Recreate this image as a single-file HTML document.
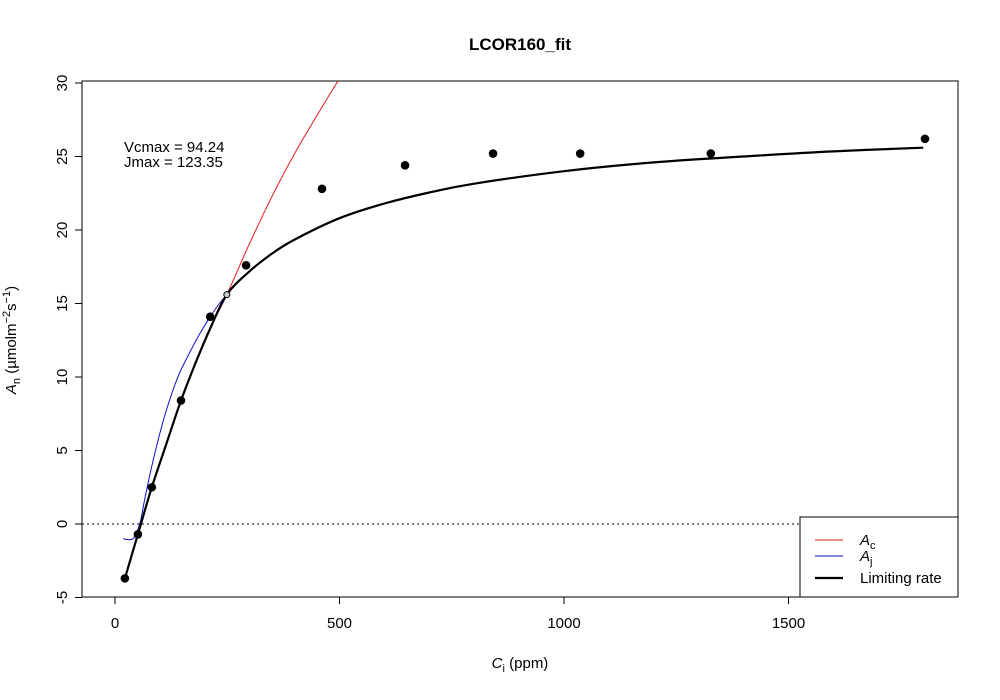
<!DOCTYPE html>
<html><head><meta charset="utf-8"><style>
body{margin:0;background:#fff;}
svg{display:block;font-family:"Liberation Sans",Arial,sans-serif;}
</style></head><body>
<svg id="chart" width="1000" height="700" xmlns="http://www.w3.org/2000/svg"></svg>
<script>
const xTicks=[0,500,1000,1500];
const yTicks=[-5,0,5,10,15,20,25,30];
const obsCi=[22,51,82,147,212,292,461,646,842,1036,1327,1804];
const obsA=[-3.7,-0.7,2.5,8.4,14.1,17.6,22.8,24.4,25.2,25.2,25.2,26.2];
const acCi=[22,51,82,115,147,180,212,249,300,350,400,450,500,520];
const acA=[-3.7,-0.7,2.5,5.5,8.4,11.0,13.3,15.6,19.1,22.3,25.2,27.8,30.3,31.2];
const ajCi=[18,40,55,65,78,95,116,140,167,190,212,230,249];
const ajA=[-1.0,-1.0,0.0,1.5,3.4,5.6,7.9,10.0,11.7,13.0,14.1,14.9,15.6];
const limCi=[22,51,82,115,147,180,212,249,300,350,400,500,600,700,800,1000,1200,1400,1600,1800];
const limA=[-3.7,-0.7,2.5,5.5,8.4,11.0,13.3,15.6,17.2,18.4,19.35,20.8,21.8,22.55,23.15,24.0,24.6,25.0,25.35,25.6];
const transition=[249,15.6];

const L=82,R=958,T=81,B=597;
const X=v=>115+v*0.449;
const Y=v=>524-v*14.7;
const svg=document.getElementById('chart');
const NS='http://www.w3.org/2000/svg';
function mk(tag,attrs,parent){const e=document.createElementNS(NS,tag);for(const k in attrs)e.setAttribute(k,attrs[k]);(parent||svg).appendChild(e);return e;}
function txt(s,attrs,parent){const e=mk('text',attrs,parent);e.textContent=s;return e;}
function path(xs,ys){
  const P=xs.map((v,i)=>[X(v),Y(ys[i])]);
  let d='M'+P[0][0].toFixed(1)+','+P[0][1].toFixed(1);
  for(let i=0;i<P.length-1;i++){
    const p0=P[i-1]||P[i],p1=P[i],p2=P[i+1],p3=P[i+2]||P[i+1];
    const c1=[p1[0]+(p2[0]-p0[0])/6,p1[1]+(p2[1]-p0[1])/6];
    const c2=[p2[0]-(p3[0]-p1[0])/6,p2[1]-(p3[1]-p1[1])/6];
    d+=`C${c1[0].toFixed(1)},${c1[1].toFixed(1)} ${c2[0].toFixed(1)},${c2[1].toFixed(1)} ${p2[0].toFixed(1)},${p2[1].toFixed(1)}`;
  }
  return d;
}

let t=txt('LCOR160_fit',{x:520,y:50,'text-anchor':'middle','font-size':17,'font-weight':'bold'});


const clip=mk('clipPath',{id:'pc'});mk('rect',{x:L,y:T,width:R-L,height:B-T},clip);

const xa=mk('g',{});
mk('line',{x1:X(0),x2:X(1500),y1:B,y2:B,stroke:'#000'},xa);
xTicks.forEach(v=>{mk('line',{x1:X(v),x2:X(v),y1:B,y2:B+7,stroke:'#000'},xa);
 const e=txt(String(v),{x:X(v),y:B+31,'text-anchor':'middle','font-size':15},xa);
 });
const xt=txt('',{x:520,y:668,'text-anchor':'middle','font-size':15},svg);
xt.innerHTML='<tspan font-style="italic">C</tspan><tspan font-size="11" dy="4">i</tspan><tspan dy="-4"> (ppm)</tspan>';


const ya=mk('g',{});
mk('line',{x1:L,x2:L,y1:Y(-5),y2:Y(30),stroke:'#000'},ya);
yTicks.forEach(v=>{mk('line',{x1:L,x2:L-7,y1:Y(v),y2:Y(v),stroke:'#000'},ya);
 const e=txt(String(v),{x:0,y:0,'text-anchor':'middle','font-size':15,transform:`translate(${L-15},${Y(v)}) rotate(-90)`},ya);
 });
const yt=txt('',{'text-anchor':'middle','font-size':15,transform:'translate(16,340) rotate(-90)'});
yt.innerHTML='<tspan font-style="italic">A</tspan><tspan font-size="11" dy="4">n</tspan><tspan dy="-4"> (µmolm</tspan><tspan font-size="11" dy="-6">−2</tspan><tspan dy="6">s</tspan><tspan font-size="11" dy="-6">−1</tspan><tspan dy="6">)</tspan>';


const box=mk('rect',{x:L,y:T,width:R-L,height:B-T,fill:'none',stroke:'#000'});


const g=mk('g',{'clip-path':'url(#pc)'});
const zl=mk('line',{x1:L,x2:R,y1:Y(0),y2:Y(0),stroke:'#000','stroke-dasharray':'2,3'},g);

let p=mk('path',{d:path(acCi,acA),fill:'none',stroke:'#e41a1c','stroke-width':1},g);

p=mk('path',{d:path(ajCi,ajA),fill:'none',stroke:'#1010c8','stroke-width':1},g);

p=mk('path',{d:path(limCi,limA),fill:'none',stroke:'#000','stroke-width':2.2},g);

obsCi.forEach((c,i)=>{const e=mk('circle',{cx:X(c),cy:Y(obsA[i]),r:4.3,fill:'#000'},g);
 });
const tp=mk('circle',{cx:X(transition[0]),cy:Y(transition[1]),r:3,fill:'#ccc',stroke:'#000','stroke-width':1},g);


t=txt('Vcmax = 94.24',{x:124,y:152,'font-size':15});
t=txt('Jmax = 123.35',{x:124,y:167,'font-size':15});

const lg=mk('g',{});
mk('rect',{x:800,y:517,width:R-800,height:B-517,fill:'#fff',stroke:'#000'},lg);
const items=[['A','c','#e41a1c',1,540],['A','j','#1010c8',1,556],['Limiting rate','','#000',2.2,578]];
items.forEach(it=>{const ig=mk('g',{},lg);
 mk('line',{x1:815,x2:843,y1:it[4],y2:it[4],stroke:it[2],'stroke-width':it[3]},ig);
 const e=txt('',{x:860,y:it[4]+5,'font-size':15},ig);
 if(it[1])e.innerHTML=`<tspan font-style="italic">${it[0]}</tspan><tspan font-size="11" dy="4">${it[1]}</tspan>`;else e.textContent=it[0];});
</script>
</body></html>
